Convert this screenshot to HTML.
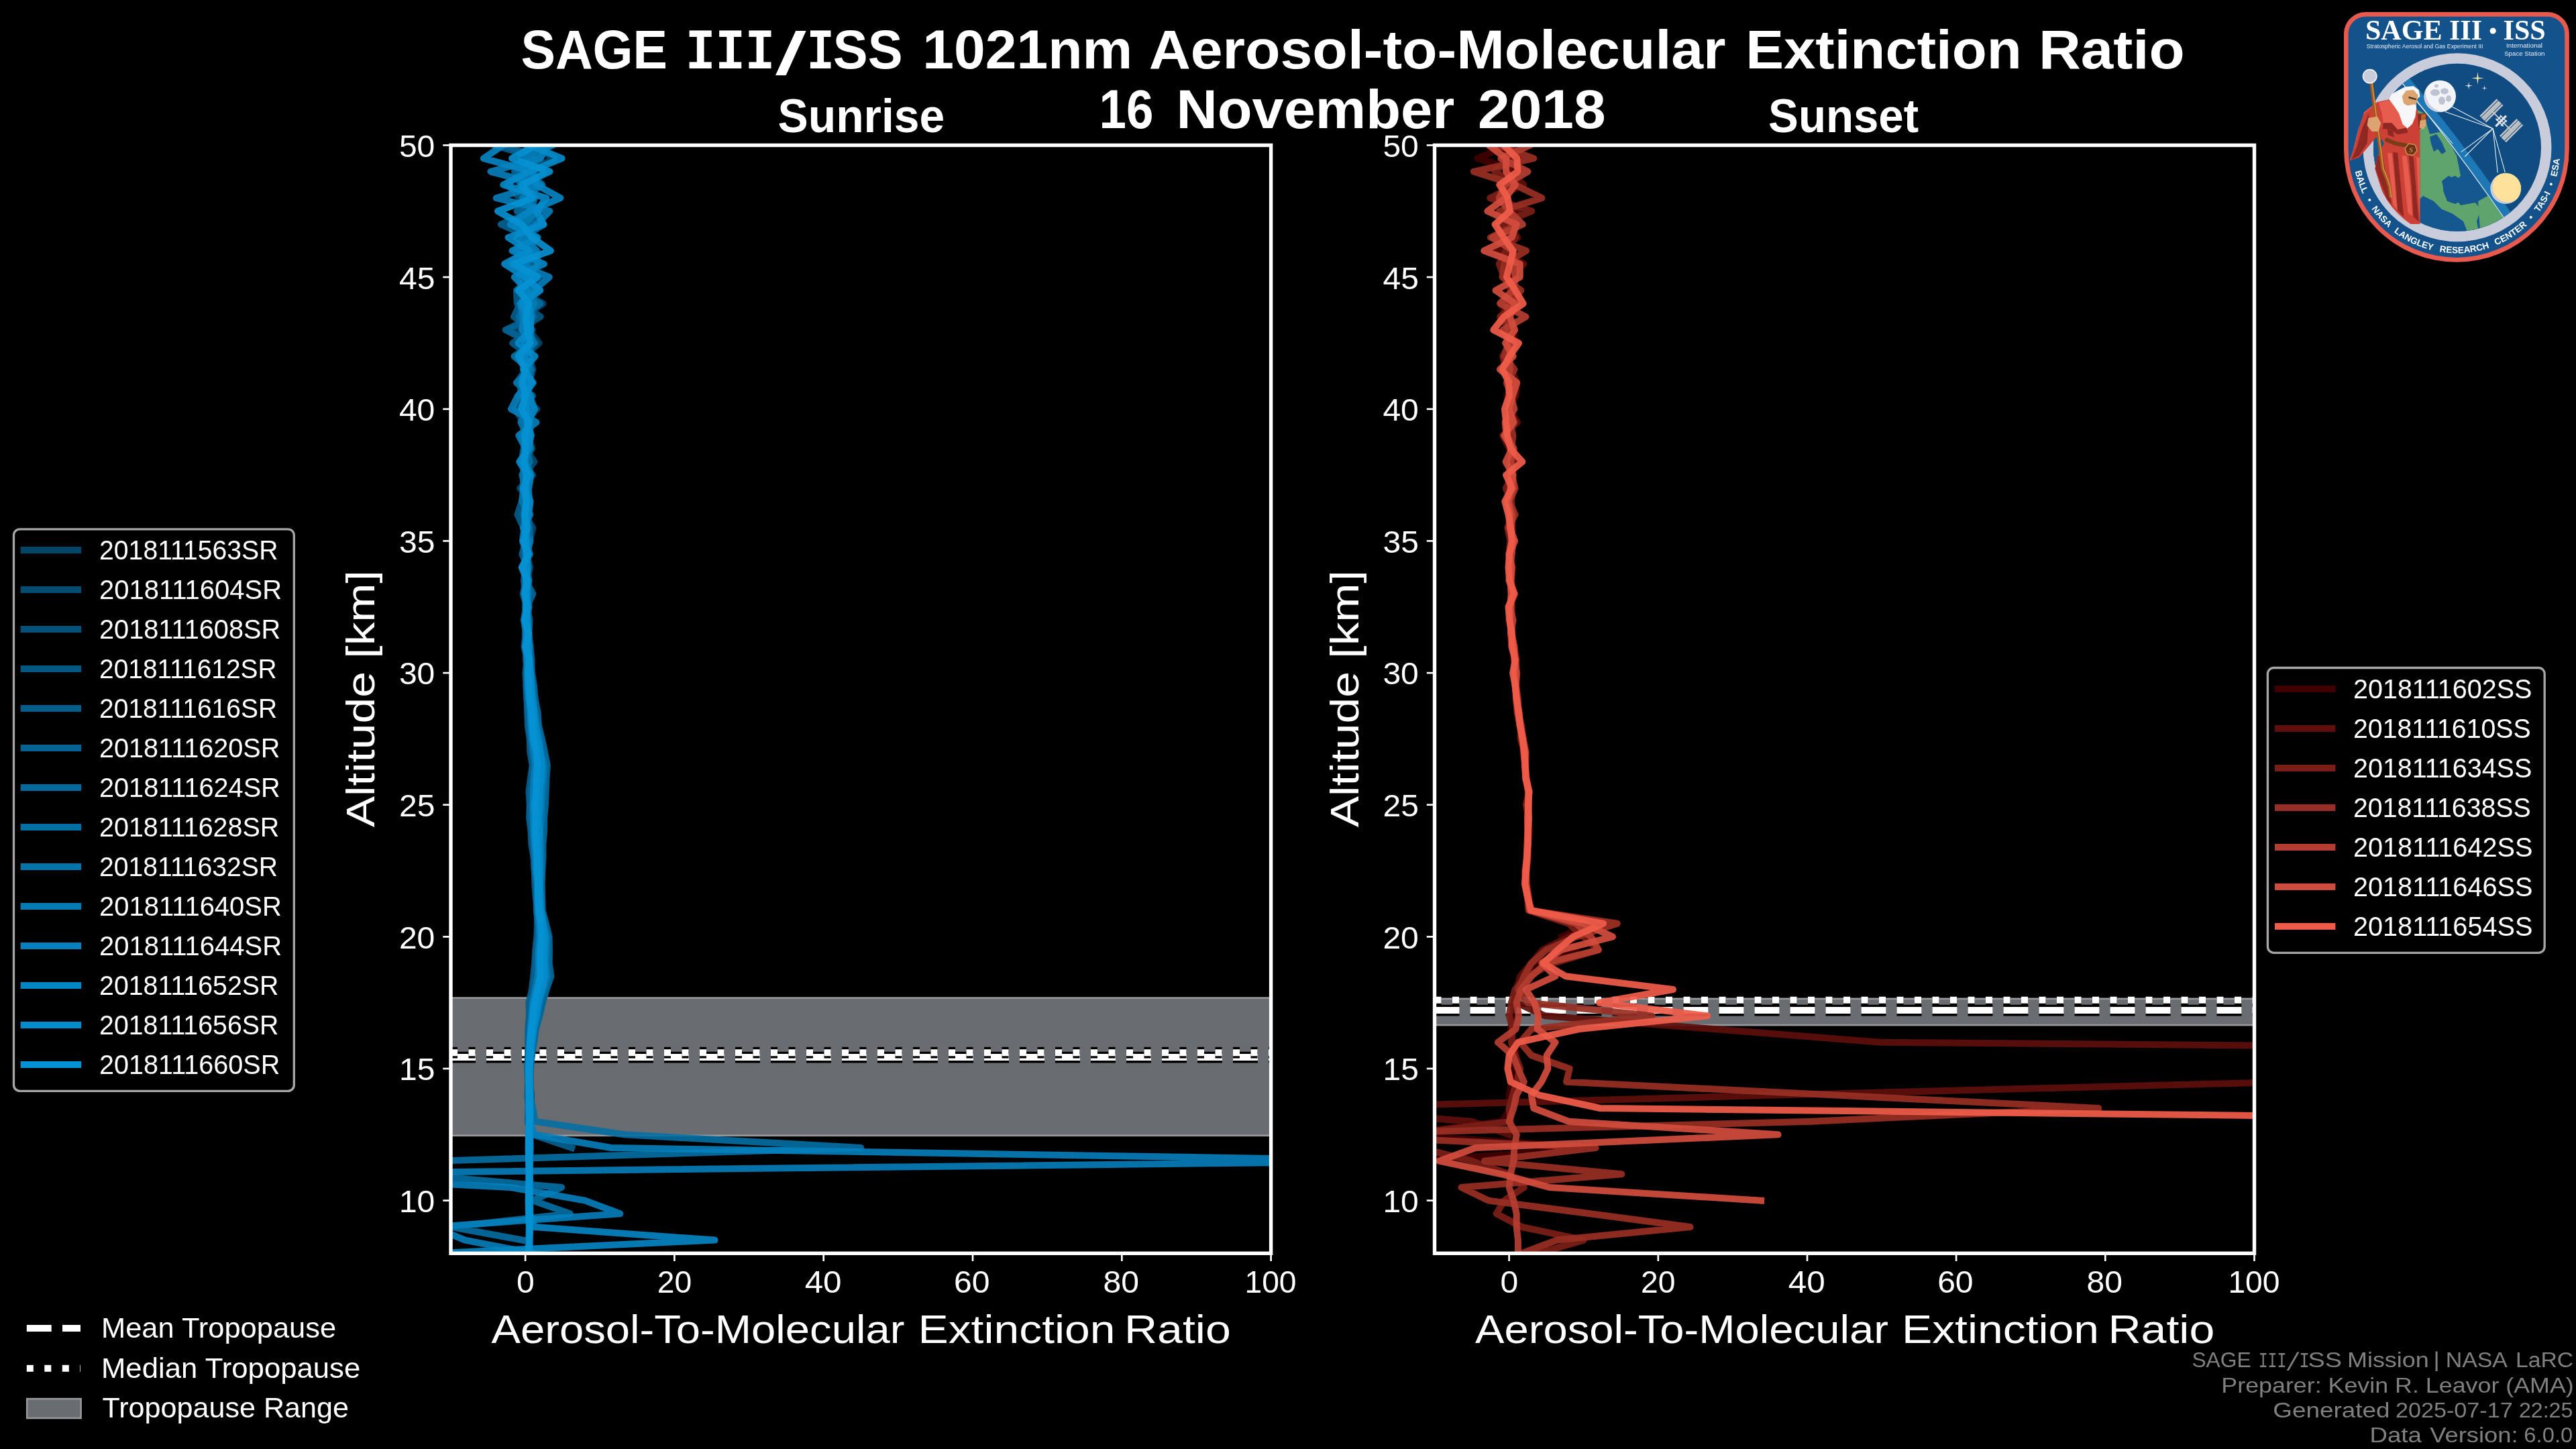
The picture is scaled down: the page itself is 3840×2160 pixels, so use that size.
<!DOCTYPE html>
<html><head><meta charset="utf-8"><title>SAGE III/ISS 1021nm Aerosol-to-Molecular Extinction Ratio</title>
<style>html,body{margin:0;padding:0;background:#000;overflow:hidden}svg{display:block;will-change:transform}</style></head>
<body>
<svg width="3840" height="2160" viewBox="0 0 3840 2160">
<rect width="3840" height="2160" fill="#000"/>
<defs>
<clipPath id="clip0"><rect x="672.0" y="216.5" width="1222.6" height="1651.8"/></clipPath>
<clipPath id="clip1"><rect x="2138.5" y="216.5" width="1222.0" height="1651.8"/></clipPath>
</defs>
<g clip-path="url(#clip0)">
<rect x="667.0" y="1487.6" width="1232.6" height="205.2" fill="#696c71" stroke="#97999d" stroke-width="2.6"/>
<line x1="672.0" y1="1576.1" x2="1894.6" y2="1576.1" stroke="#000" stroke-width="16.67" stroke-dasharray="37 16"/>
<line x1="672.0" y1="1576.1" x2="1894.6" y2="1576.1" stroke="#fff" stroke-width="10" stroke-dasharray="37 16"/>
<line x1="672.0" y1="1569.2" x2="1894.6" y2="1569.2" stroke="#000" stroke-width="16.67" stroke-dasharray="10 16.5"/>
<line x1="672.0" y1="1569.2" x2="1894.6" y2="1569.2" stroke="#fff" stroke-width="10" stroke-dasharray="10 16.5"/>
<polyline points="788.2,177.2 754.6,196.8 822.8,216.5 784.4,236.2 779.4,255.8 789.2,275.5 794.9,295.2 782.2,314.8 787.9,334.5 772.9,354.1 800.7,373.8 783.9,393.5 792.8,413.1 771.9,432.8 809.5,452.5 780.2,472.1 788.3,491.8 803.6,511.5 780.7,531.1 780.4,550.8 788.0,570.5 772.4,590.1 800.5,609.8 779.3,629.5 786.5,649.1 793.2,668.8 776.3,688.4 794.1,708.1 775.0,727.8 789.4,747.4 781.5,767.1 794.4,786.8 789.6,806.4 784.9,826.1 790.0,845.8 785.3,865.4 788.9,885.1 784.7,904.8 784.9,924.4 786.0,944.1 790.1,963.7 792.8,983.4 792.0,1003.1 794.2,1022.7 798.3,1042.4 799.1,1062.1 802.7,1081.7 806.4,1101.4 810.1,1121.1 813.5,1140.7 812.1,1160.4 812.7,1180.1 810.8,1199.7 810.6,1219.4 807.9,1239.0 807.4,1258.7 808.1,1278.4 808.2,1298.0 806.6,1317.7 806.6,1337.4 807.1,1357.0 812.5,1376.7 817.3,1396.4 816.3,1416.0 818.3,1435.7 818.4,1455.3 813.7,1475.0 808.3,1494.7 803.3,1514.3 797.7,1534.0 794.9,1553.7 792.7,1573.3 790.3,1593.0 790.1,1612.7 791.9,1632.3 792.0,1652.0" fill="none" stroke="#03466a" stroke-opacity="0.9" stroke-width="10.0" stroke-linejoin="round" stroke-linecap="square"/>
<polyline points="786.2,177.2 775.4,196.8 792.1,216.5 826.3,236.2 786.0,255.8 783.1,275.5 782.9,295.2 778.8,314.8 795.2,334.5 788.5,354.1 772.3,373.8 799.4,393.5 776.8,413.1 805.6,432.8 781.5,452.5 804.8,472.1 776.3,491.8 790.0,511.5 788.4,531.1 794.3,550.8 788.0,570.5 778.6,590.1 791.7,609.8 784.9,629.5 785.1,649.1 783.9,668.8 796.5,688.4 780.6,708.1 785.4,727.8 789.6,747.4 785.8,767.1 786.6,786.8 789.0,806.4 787.0,826.1 787.4,845.8 788.6,865.4 786.4,885.1 785.5,904.8 786.4,924.4 786.8,944.1 789.0,963.7 788.6,983.4 790.6,1003.1 794.2,1022.7 794.4,1042.4 797.6,1062.1 801.7,1081.7 804.2,1101.4 809.2,1121.1 811.3,1140.7 810.7,1160.4 809.7,1180.1 809.2,1199.7 808.0,1219.4 806.6,1239.0 806.9,1258.7 805.9,1278.4 806.9,1298.0 805.3,1317.7 806.5,1337.4 807.2,1357.0 812.2,1376.7 816.5,1396.4 814.3,1416.0 816.4,1435.7 817.3,1455.3 812.1,1475.0 805.6,1494.7 802.1,1514.3 797.7,1534.0 793.1,1553.7 792.7,1573.3 790.4,1593.0 790.1,1612.7 791.4,1632.3 790.8,1652.0 791.2,1671.7 789.7,1691.3 789.8,1711.0" fill="none" stroke="#034c72" stroke-opacity="0.9" stroke-width="10.0" stroke-linejoin="round" stroke-linecap="square"/>
<polyline points="773.9,177.2 794.6,196.8 783.6,216.5 804.7,236.2 776.0,255.8 757.4,275.5 774.2,295.2 795.7,314.8 775.3,334.5 798.6,354.1 779.1,373.8 777.2,393.5 796.5,413.1 769.8,432.8 770.7,452.5 805.8,472.1 757.5,491.8 798.8,511.5 782.8,531.1 783.6,550.8 770.5,570.5 794.2,590.1 768.2,609.8 780.3,629.5 780.9,649.1 786.7,668.8 781.5,688.4 786.1,708.1 778.6,727.8 783.2,747.4 777.9,767.1 783.4,786.8 784.3,806.4 781.3,826.1 784.9,845.8 781.0,865.4 782.8,885.1 783.6,904.8 783.1,924.4 785.1,944.1 784.4,963.7 787.1,983.4 784.4,1003.1 786.1,1022.7 785.8,1042.4 788.5,1062.1 789.8,1081.7 791.4,1101.4 794.6,1121.1 796.7,1140.7 794.5,1160.4 792.7,1180.1 793.0,1199.7 792.9,1219.4 794.1,1239.0 795.9,1258.7 797.4,1278.4 797.9,1298.0 799.3,1317.7 800.7,1337.4 801.5,1357.0 801.8,1376.7 804.4,1396.4 801.0,1416.0 800.7,1435.7 799.5,1455.3 797.0,1475.0 791.6,1494.7 791.1,1514.3 788.8,1534.0 788.9,1553.7 787.8,1573.3 787.5,1593.0 787.7,1612.7 787.6,1632.3 788.2,1652.0 787.4,1671.7" fill="none" stroke="#03527a" stroke-opacity="0.9" stroke-width="10.0" stroke-linejoin="round" stroke-linecap="square"/>
<polyline points="790.5,177.2 772.3,196.8 802.4,216.5 776.9,236.2 811.1,255.8 781.3,275.5 775.7,295.2 795.7,314.8 790.4,334.5 776.0,354.1 784.0,373.8 761.3,393.5 803.9,413.1 770.9,432.8 771.8,452.5 775.2,472.1 786.7,491.8 789.3,511.5 781.4,531.1 788.7,550.8 774.5,570.5 779.3,590.1 791.4,609.8 783.5,629.5 783.6,649.1 790.4,668.8 775.8,688.4 784.8,708.1 787.6,727.8 789.6,747.4 781.4,767.1 790.8,786.8 779.2,806.4 787.0,826.1 782.5,845.8 781.1,865.4 786.2,885.1 785.5,904.8 783.9,924.4 785.3,944.1 787.6,963.7 784.5,983.4 786.9,1003.1 788.1,1022.7 788.9,1042.4 792.8,1062.1 793.1,1081.7 795.9,1101.4 798.9,1121.1 803.3,1140.7 799.0,1160.4 798.8,1180.1 798.2,1199.7 798.4,1219.4 798.2,1239.0 798.7,1258.7 799.8,1278.4 801.5,1298.0 801.5,1317.7 801.7,1337.4 804.3,1357.0 805.7,1376.7 807.5,1396.4 806.0,1416.0 805.5,1435.7 805.5,1455.3 800.8,1475.0 797.2,1494.7 793.7,1514.3 792.6,1534.0 789.6,1553.7 789.7,1573.3 788.1,1593.0 789.3,1612.7 788.0,1632.3 788.8,1652.0 788.7,1671.7 787.9,1691.3 788.3,1711.0 788.6,1730.7 788.6,1750.3" fill="none" stroke="#035882" stroke-opacity="0.9" stroke-width="10.0" stroke-linejoin="round" stroke-linecap="square"/>
<polyline points="780.4,177.2 784.1,196.8 737.0,216.5 802.3,236.2 770.2,255.8 774.8,275.5 793.9,295.2 789.9,314.8 773.7,334.5 788.2,354.1 772.5,373.8 778.2,393.5 784.5,413.1 785.9,432.8 775.5,452.5 766.1,472.1 793.5,491.8 764.2,511.5 790.1,531.1 790.7,550.8 777.4,570.5 775.3,590.1 774.8,609.8 790.9,629.5 776.9,649.1 785.7,668.8 783.6,688.4 779.7,708.1 780.5,727.8 777.9,747.4 771.5,767.1 780.6,786.8 782.1,806.4 781.4,826.1 783.5,845.8 781.5,865.4 783.2,885.1 783.9,904.8 780.9,924.4 783.6,944.1 781.4,963.7 785.9,983.4 783.3,1003.1 784.9,1022.7 785.6,1042.4 786.2,1062.1 786.8,1081.7 789.7,1101.4 790.2,1121.1 793.7,1140.7 790.8,1160.4 788.3,1180.1 789.8,1199.7 788.9,1219.4 791.5,1239.0 792.3,1258.7 795.6,1278.4 796.8,1298.0 797.3,1317.7 798.7,1337.4 800.6,1357.0 801.0,1376.7 800.3,1396.4 798.2,1416.0 797.1,1435.7 795.1,1455.3 792.9,1475.0 788.4,1494.7 789.0,1514.3 787.3,1534.0 787.2,1553.7 787.1,1573.3 786.2,1593.0 787.1,1612.7 786.5,1632.3" fill="none" stroke="#045d8b" stroke-opacity="0.9" stroke-width="10.0" stroke-linejoin="round" stroke-linecap="square"/>
<polyline points="797.6,177.2 817.6,196.8 750.9,216.5 805.5,236.2 766.9,255.8 801.2,275.5 781.1,295.2 796.4,314.8 746.9,334.5 791.9,354.1 768.1,373.8 787.8,393.5 773.0,413.1 780.6,432.8 789.3,452.5 795.6,472.1 753.7,491.8 792.2,511.5 780.2,531.1 783.0,550.8 779.2,570.5 774.2,590.1 779.2,609.8 787.1,629.5 785.4,649.1 780.5,668.8 777.7,688.4 783.6,708.1 779.8,727.8 784.9,747.4 781.2,767.1 780.3,786.8 783.7,806.4 778.4,826.1 786.4,845.8 784.0,865.4 779.8,885.1 785.0,904.8 780.7,924.4 786.2,944.1 784.3,963.7 784.1,983.4 785.8,1003.1 784.2,1022.7 785.5,1042.4 786.7,1062.1 788.3,1081.7 790.3,1101.4 793.0,1121.1 794.2,1140.7 793.5,1160.4 791.3,1180.1 790.1,1199.7 790.8,1219.4 792.9,1239.0 794.4,1258.7 795.7,1278.4 796.8,1298.0 799.0,1317.7 800.5,1337.4 799.8,1357.0 802.5,1376.7 801.5,1396.4 799.7,1416.0 798.8,1435.7 797.6,1455.3 794.8,1475.0 791.1,1494.7 789.6,1514.3 788.4,1534.0 787.4,1553.7 787.3,1573.3 786.5,1593.0 788.2,1612.7 786.8,1632.3 787.2,1652.0 786.9,1671.7 794.3,1691.3 852.1,1711.0" fill="none" stroke="#046393" stroke-opacity="0.9" stroke-width="10.0" stroke-linejoin="round" stroke-linecap="square"/>
<polyline points="793.6,177.2 789.4,196.8 798.6,216.5 789.1,236.2 772.8,255.8 775.9,275.5 796.5,295.2 770.8,314.8 810.5,334.5 779.5,354.1 782.1,373.8 788.3,393.5 783.8,413.1 789.5,432.8 796.6,452.5 773.0,472.1 780.1,491.8 794.7,511.5 784.3,531.1 791.2,550.8 789.9,570.5 786.1,590.1 793.8,609.8 780.1,629.5 791.5,649.1 781.7,668.8 784.5,688.4 791.8,708.1 788.3,727.8 779.3,747.4 786.7,767.1 788.8,786.8 790.3,806.4 784.3,826.1 788.2,845.8 783.6,865.4 794.3,885.1 785.4,904.8 789.5,924.4 788.3,944.1 790.5,963.7 791.5,983.4 792.8,1003.1 796.1,1022.7 797.4,1042.4 801.7,1062.1 802.9,1081.7 807.8,1101.4 812.1,1121.1 815.9,1140.7 814.5,1160.4 813.7,1180.1 813.0,1199.7 811.1,1219.4 811.1,1239.0 809.4,1258.7 809.5,1278.4 808.2,1298.0 807.7,1317.7 808.1,1337.4 808.7,1357.0 813.8,1376.7 818.6,1396.4 819.0,1416.0 818.6,1435.7 821.4,1455.3 814.6,1475.0 809.1,1494.7 804.4,1514.3 798.8,1534.0 796.1,1553.7 792.5,1573.3 791.0,1593.0 790.5,1612.7 791.2,1632.3 791.8,1652.0 792.4,1671.7 790.0,1691.3 790.8,1711.0 790.2,1730.7 789.8,1750.3 790.6,1770.0 789.7,1789.6" fill="none" stroke="#04699b" stroke-opacity="0.9" stroke-width="10.0" stroke-linejoin="round" stroke-linecap="square"/>
<polyline points="798.1,177.2 772.0,196.8 790.0,216.5 795.8,236.2 785.0,255.8 785.5,275.5 796.7,295.2 792.0,314.8 768.9,334.5 799.7,354.1 787.1,373.8 778.0,393.5 793.6,413.1 770.6,432.8 805.3,452.5 775.7,472.1 789.8,491.8 793.6,511.5 781.4,531.1 791.9,550.8 775.7,570.5 786.0,590.1 776.5,609.8 787.9,629.5 789.9,649.1 784.3,668.8 789.8,688.4 778.2,708.1 784.1,727.8 783.7,747.4 788.0,767.1 785.3,786.8 785.2,806.4 787.2,826.1 784.2,845.8 785.8,865.4 788.1,885.1 783.3,904.8 786.7,924.4 788.3,944.1 786.5,963.7 789.5,983.4 788.7,1003.1 793.2,1022.7 790.1,1042.4 795.3,1062.1 796.6,1081.7 801.8,1101.4 803.5,1121.1 806.7,1140.7 804.9,1160.4 805.0,1180.1 803.4,1199.7 802.8,1219.4 801.9,1239.0 802.7,1258.7 803.7,1278.4 803.8,1298.0 804.0,1317.7 804.2,1337.4 804.3,1357.0 809.1,1376.7 811.1,1396.4 811.0,1416.0 810.6,1435.7 811.1,1455.3 806.2,1475.0 802.1,1494.7 798.0,1514.3 794.4,1534.0 791.0,1553.7 791.3,1573.3 789.3,1593.0 789.9,1612.7 789.4,1632.3 794.3,1652.0 797.6,1671.7 931.0,1691.3 1283.3,1711.0 649.8,1730.7 612.0,1750.3 837.1,1770.0 794.3,1789.6 849.8,1809.3 672.0,1829.0 778.7,1848.6" fill="none" stroke="#046fa3" stroke-opacity="0.9" stroke-width="10.0" stroke-linejoin="round" stroke-linecap="square"/>
<polyline points="807.6,177.2 743.2,196.8 823.9,216.5 779.5,236.2 783.3,255.8 808.3,275.5 778.9,295.2 804.5,314.8 771.9,334.5 782.5,354.1 799.8,373.8 801.5,393.5 785.0,413.1 794.3,432.8 777.9,452.5 777.7,472.1 787.0,491.8 796.4,511.5 766.5,531.1 789.7,550.8 770.0,570.5 792.2,590.1 787.3,609.8 776.4,629.5 786.0,649.1 791.1,668.8 781.3,688.4 780.1,708.1 780.7,727.8 778.1,747.4 790.4,767.1 779.9,786.8 790.3,806.4 785.2,826.1 783.1,845.8 784.5,865.4 787.0,885.1 784.7,904.8 785.8,924.4 783.2,944.1 789.0,963.7 785.9,983.4 787.5,1003.1 790.2,1022.7 792.0,1042.4 795.2,1062.1 795.3,1081.7 798.7,1101.4 803.7,1121.1 804.5,1140.7 803.9,1160.4 801.9,1180.1 801.5,1199.7 802.3,1219.4 800.6,1239.0 801.7,1258.7 802.1,1278.4 803.8,1298.0 802.5,1317.7 804.3,1337.4 804.4,1357.0 807.9,1376.7 809.9,1396.4 809.7,1416.0 809.3,1435.7 809.4,1455.3 804.4,1475.0 799.6,1494.7 797.2,1514.3 793.5,1534.0 791.7,1553.7 790.3,1573.3 788.3,1593.0 789.8,1612.7 789.3,1632.3 789.9,1652.0 789.8,1671.7 789.2,1691.3" fill="none" stroke="#0475ab" stroke-opacity="0.9" stroke-width="10.0" stroke-linejoin="round" stroke-linecap="square"/>
<polyline points="795.8,177.2 783.9,196.8 808.1,216.5 783.8,236.2 781.8,255.8 784.3,275.5 781.2,295.2 797.6,314.8 783.3,334.5 784.5,354.1 797.1,373.8 783.7,393.5 784.0,413.1 774.3,432.8 796.4,452.5 785.1,472.1 788.3,491.8 782.9,511.5 782.2,531.1 787.0,550.8 788.1,570.5 785.1,590.1 786.1,609.8 783.7,629.5 789.3,649.1 786.1,668.8 782.3,688.4 791.2,708.1 787.4,727.8 788.9,747.4 784.5,767.1 786.1,786.8 782.4,806.4 789.9,826.1 778.9,845.8 788.2,865.4 784.7,885.1 788.5,904.8 785.3,924.4 786.0,944.1 786.5,963.7 789.3,983.4 791.3,1003.1 792.7,1022.7 794.6,1042.4 796.9,1062.1 799.9,1081.7 804.0,1101.4 806.2,1121.1 810.6,1140.7 809.9,1160.4 808.3,1180.1 807.1,1199.7 806.9,1219.4 804.9,1239.0 805.8,1258.7 806.3,1278.4 806.3,1298.0 804.4,1317.7 806.4,1337.4 807.0,1357.0 810.2,1376.7 814.9,1396.4 814.4,1416.0 813.4,1435.7 815.7,1455.3 809.7,1475.0 803.9,1494.7 801.0,1514.3 796.0,1534.0 794.0,1553.7 792.3,1573.3 789.9,1593.0 790.0,1612.7 790.8,1632.3 791.0,1652.0 791.3,1671.7 789.0,1691.3 789.3,1711.0 788.7,1730.7 789.9,1750.3 789.1,1770.0 789.2,1789.6 789.1,1809.3" fill="none" stroke="#047bb3" stroke-opacity="0.9" stroke-width="10.0" stroke-linejoin="round" stroke-linecap="square"/>
<polyline points="774.1,177.2 716.5,196.8 816.5,216.5 805.4,236.2 731.5,255.8 805.4,275.5 739.8,295.2 819.4,314.8 799.8,334.5 769.8,354.1 792.0,373.8 772.0,393.5 818.7,413.1 795.7,432.8 775.2,452.5 781.5,472.1 778.1,491.8 791.0,511.5 778.8,531.1 781.2,550.8 792.5,570.5 772.0,590.1 762.0,609.8 799.5,629.5 773.4,649.1 783.6,668.8 778.4,688.4 783.7,708.1 785.7,727.8 784.6,747.4 784.2,767.1 781.5,786.8 779.0,806.4 785.8,826.1 786.4,845.8 784.9,865.4 782.7,885.1 785.6,904.8 782.5,924.4 784.9,944.1 783.1,963.7 785.9,983.4 786.2,1003.1 786.6,1022.7 788.4,1042.4 790.3,1062.1 791.2,1081.7 793.1,1101.4 795.7,1121.1 797.9,1140.7 796.1,1160.4 795.1,1180.1 794.4,1199.7 794.8,1219.4 795.3,1239.0 796.7,1258.7 798.0,1278.4 798.8,1298.0 801.2,1317.7 801.2,1337.4 801.7,1357.0 803.5,1376.7 804.6,1396.4 803.0,1416.0 802.5,1435.7 802.3,1455.3 798.2,1475.0 794.1,1494.7 792.4,1514.3 790.6,1534.0 789.4,1553.7 788.4,1573.3 787.1,1593.0 788.1,1612.7 788.7,1632.3 787.7,1652.0 789.8,1671.7 796.5,1691.3 911.0,1711.0 2128.0,1730.7 371.9,1750.3 760.9,1770.0 872.1,1789.6 924.3,1809.3 646.4,1829.0 693.1,1848.6 795.4,1868.3" fill="none" stroke="#0580bc" stroke-opacity="0.9" stroke-width="10.0" stroke-linejoin="round" stroke-linecap="square"/>
<polyline points="807.1,177.2 816.5,196.8 749.8,216.5 720.9,236.2 794.3,255.8 799.8,275.5 835.4,295.2 788.7,314.8 760.9,334.5 801.5,354.1 763.5,373.8 810.9,393.5 766.9,413.1 785.4,432.8 787.6,452.5 792.3,472.1 790.4,491.8 790.4,511.5 781.2,531.1 783.7,550.8 782.3,570.5 789.3,590.1 797.0,609.8 787.2,629.5 791.8,649.1 788.0,668.8 774.3,688.4 787.2,708.1 780.9,727.8 790.6,747.4 788.0,767.1 780.5,786.8 786.2,806.4 785.4,826.1 782.9,845.8 783.8,865.4 783.6,885.1 786.9,904.8 782.5,924.4 788.2,944.1 785.3,963.7 788.5,983.4 789.3,1003.1 788.3,1022.7 790.5,1042.4 793.1,1062.1 794.0,1081.7 797.6,1101.4 800.7,1121.1 803.4,1140.7 801.2,1160.4 800.7,1180.1 800.1,1199.7 800.4,1219.4 798.3,1239.0 801.7,1258.7 801.2,1278.4 801.4,1298.0 802.0,1317.7 803.5,1337.4 803.6,1357.0 807.0,1376.7 809.3,1396.4 807.3,1416.0 807.3,1435.7 807.9,1455.3 803.3,1475.0 799.1,1494.7 796.2,1514.3 792.8,1534.0 791.0,1553.7 790.9,1573.3 788.5,1593.0 789.1,1612.7 788.6,1632.3 790.0,1652.0 788.7,1671.7 788.6,1691.3 788.1,1711.0 788.6,1730.7 788.6,1750.3 788.1,1770.0 788.5,1789.6 789.3,1809.3 796.5,1829.0 1065.5,1848.6 649.8,1868.3" fill="none" stroke="#0586c4" stroke-opacity="0.9" stroke-width="10.0" stroke-linejoin="round" stroke-linecap="square"/>
<polyline points="759.5,177.2 827.6,196.8 789.8,216.5 837.6,236.2 788.7,255.8 750.4,275.5 814.3,295.2 799.8,314.8 810.4,334.5 757.6,354.1 788.7,373.8 752.2,393.5 783.1,413.1 804.9,432.8 777.6,452.5 788.4,472.1 791.0,491.8 772.6,511.5 797.6,531.1 780.2,550.8 794.6,570.5 780.3,590.1 784.8,609.8 786.0,629.5 789.2,649.1 783.9,668.8 778.8,688.4 789.9,708.1 779.2,727.8 785.6,747.4 782.7,767.1 782.7,786.8 784.2,806.4 784.3,826.1 785.1,845.8 785.7,865.4 785.1,885.1 784.2,904.8 786.1,924.4 787.2,944.1 787.8,963.7 788.6,983.4 790.4,1003.1 791.7,1022.7 793.7,1042.4 796.0,1062.1 797.6,1081.7 801.3,1101.4 805.1,1121.1 807.8,1140.7 806.8,1160.4 804.4,1180.1 804.8,1199.7 802.6,1219.4 804.0,1239.0 803.3,1258.7 804.1,1278.4 804.1,1298.0 804.8,1317.7 804.3,1337.4 805.9,1357.0 809.2,1376.7 812.5,1396.4 811.5,1416.0 811.2,1435.7 812.0,1455.3 807.6,1475.0 802.3,1494.7 798.6,1514.3 795.2,1534.0 792.6,1553.7 790.6,1573.3 789.5,1593.0 789.5,1612.7 789.9,1632.3 790.6,1652.0 790.2,1671.7 790.4,1691.3 790.0,1711.0 789.5,1730.7 789.3,1750.3 789.5,1770.0 790.0,1789.6 790.4,1809.3 790.2,1829.0 789.7,1848.6 789.3,1868.3" fill="none" stroke="#058ccc" stroke-opacity="0.9" stroke-width="10.0" stroke-linejoin="round" stroke-linecap="square"/>
<polyline points="807.8,177.2 760.9,196.8 798.7,216.5 763.1,236.2 819.4,255.8 777.6,275.5 794.3,295.2 742.0,314.8 777.6,334.5 793.1,354.1 820.9,373.8 766.5,393.5 800.9,413.1 773.1,432.8 788.7,452.5 783.8,472.1 785.6,491.8 790.3,511.5 772.5,531.1 783.2,550.8 778.0,570.5 783.8,590.1 777.3,609.8 788.4,629.5 781.9,649.1 783.4,668.8 781.4,688.4 784.8,708.1 783.5,727.8 784.5,747.4 781.8,767.1 786.0,786.8 780.2,806.4 787.8,826.1 777.7,845.8 786.0,865.4 782.0,885.1 786.2,904.8 782.3,924.4 787.7,944.1 783.5,963.7 788.9,983.4 786.9,1003.1 788.6,1022.7 789.7,1042.4 792.3,1062.1 793.3,1081.7 795.3,1101.4 799.7,1121.1 801.1,1140.7 799.5,1160.4 798.9,1180.1 797.2,1199.7 798.2,1219.4 797.9,1239.0 798.9,1258.7 800.4,1278.4 800.5,1298.0 801.9,1317.7 802.0,1337.4 803.4,1357.0 806.1,1376.7 807.2,1396.4 805.6,1416.0 805.2,1435.7 805.4,1455.3 801.1,1475.0 796.7,1494.7 794.4,1514.3 792.0,1534.0 790.2,1553.7 789.5,1573.3 788.5,1593.0 788.2,1612.7 788.8,1632.3 788.9,1652.0 788.7,1671.7 788.0,1691.3 787.6,1711.0 788.2,1730.7 788.7,1750.3 788.2,1770.0 787.6,1789.6 788.0,1809.3 788.7,1829.0 788.3,1848.6 787.6,1868.3" fill="none" stroke="#0592d4" stroke-opacity="0.9" stroke-width="10.0" stroke-linejoin="round" stroke-linecap="square"/>
</g>
<rect x="672.0" y="216.5" width="1222.6" height="1651.8" fill="none" stroke="#fff" stroke-width="5.4"/>
<line x1="783.1" y1="1868.3" x2="783.1" y2="1880.0" stroke="#fff" stroke-width="2.67"/>
<text transform="translate(770.06,1927.20) scale(1.0400,1)" font-family="'Liberation Sans', sans-serif" font-size="46.20" font-weight="normal" fill="#fff" >0</text>
<line x1="1005.4" y1="1868.3" x2="1005.4" y2="1880.0" stroke="#fff" stroke-width="2.67"/>
<text transform="translate(979.77,1927.20) scale(1.0000,1)" font-family="'Liberation Sans', sans-serif" font-size="46.20" font-weight="normal" fill="#fff" >20</text>
<line x1="1227.7" y1="1868.3" x2="1227.7" y2="1880.0" stroke="#fff" stroke-width="2.67"/>
<text transform="translate(1199.64,1927.20) scale(1.0700,1)" font-family="'Liberation Sans', sans-serif" font-size="46.20" font-weight="normal" fill="#fff" >40</text>
<line x1="1450.0" y1="1868.3" x2="1450.0" y2="1880.0" stroke="#fff" stroke-width="2.67"/>
<text transform="translate(1422.02,1927.20) scale(1.0400,1)" font-family="'Liberation Sans', sans-serif" font-size="46.20" font-weight="normal" fill="#fff" >60</text>
<line x1="1672.3" y1="1868.3" x2="1672.3" y2="1880.0" stroke="#fff" stroke-width="2.67"/>
<text transform="translate(1644.47,1927.20) scale(1.0400,1)" font-family="'Liberation Sans', sans-serif" font-size="46.20" font-weight="normal" fill="#fff" >80</text>
<line x1="1894.6" y1="1868.3" x2="1894.6" y2="1880.0" stroke="#fff" stroke-width="2.67"/>
<text transform="translate(1855.49,1927.20) scale(1.0000,1)" font-family="'Liberation Sans', sans-serif" font-size="46.20" font-weight="normal" fill="#fff" >100</text>
<line x1="660.3" y1="1789.6" x2="672.0" y2="1789.6" stroke="#fff" stroke-width="2.67"/>
<text transform="translate(594.90,1807.04) scale(1.0400,1)" font-family="'Liberation Sans', sans-serif" font-size="46.20" font-weight="normal" fill="#fff" >10</text>
<line x1="660.3" y1="1593.0" x2="672.0" y2="1593.0" stroke="#fff" stroke-width="2.67"/>
<text transform="translate(595.04,1610.40) scale(1.0400,1)" font-family="'Liberation Sans', sans-serif" font-size="46.20" font-weight="normal" fill="#fff" >15</text>
<line x1="660.3" y1="1396.4" x2="672.0" y2="1396.4" stroke="#fff" stroke-width="2.67"/>
<text transform="translate(594.90,1413.76) scale(1.0400,1)" font-family="'Liberation Sans', sans-serif" font-size="46.20" font-weight="normal" fill="#fff" >20</text>
<line x1="660.3" y1="1199.7" x2="672.0" y2="1199.7" stroke="#fff" stroke-width="2.67"/>
<text transform="translate(595.04,1217.11) scale(1.0400,1)" font-family="'Liberation Sans', sans-serif" font-size="46.20" font-weight="normal" fill="#fff" >25</text>
<line x1="660.3" y1="1003.1" x2="672.0" y2="1003.1" stroke="#fff" stroke-width="2.67"/>
<text transform="translate(594.90,1020.47) scale(1.0400,1)" font-family="'Liberation Sans', sans-serif" font-size="46.20" font-weight="normal" fill="#fff" >30</text>
<line x1="660.3" y1="806.4" x2="672.0" y2="806.4" stroke="#fff" stroke-width="2.67"/>
<text transform="translate(595.04,823.83) scale(1.0400,1)" font-family="'Liberation Sans', sans-serif" font-size="46.20" font-weight="normal" fill="#fff" >35</text>
<line x1="660.3" y1="609.8" x2="672.0" y2="609.8" stroke="#fff" stroke-width="2.67"/>
<text transform="translate(594.90,627.19) scale(1.0400,1)" font-family="'Liberation Sans', sans-serif" font-size="46.20" font-weight="normal" fill="#fff" >40</text>
<line x1="660.3" y1="413.1" x2="672.0" y2="413.1" stroke="#fff" stroke-width="2.67"/>
<text transform="translate(595.04,430.54) scale(1.0400,1)" font-family="'Liberation Sans', sans-serif" font-size="46.20" font-weight="normal" fill="#fff" >45</text>
<line x1="660.3" y1="216.5" x2="672.0" y2="216.5" stroke="#fff" stroke-width="2.67"/>
<text transform="translate(594.90,233.90) scale(1.0400,1)" font-family="'Liberation Sans', sans-serif" font-size="46.20" font-weight="normal" fill="#fff" >50</text>
<text transform="translate(732.47,2001.60) scale(1.0886,1)" font-family="'Liberation Sans', sans-serif" font-size="59.90" font-weight="normal" fill="#fff" >Aerosol-To-Molecular</text>
<text transform="translate(1368.44,2001.60) scale(1.1326,1)" font-family="'Liberation Sans', sans-serif" font-size="59.90" font-weight="normal" fill="#fff" >Extinction</text>
<text transform="translate(1675.92,2001.60) scale(1.1364,1)" font-family="'Liberation Sans', sans-serif" font-size="59.90" font-weight="normal" fill="#fff" >Ratio</text>
<text transform="translate(558.40,1233.34) rotate(-90) scale(1.1630,1)" font-family="'Liberation Sans', sans-serif" font-size="59.90" font-weight="normal" fill="#fff">Altitude [km]</text>
<g clip-path="url(#clip1)">
<rect x="2133.5" y="1488.8" width="1232.0" height="39.3" fill="#696c71" stroke="#97999d" stroke-width="2.6"/>
<line x1="2138.5" y1="1506.1" x2="3360.5" y2="1506.1" stroke="#000" stroke-width="16.67" stroke-dasharray="37 16"/>
<line x1="2138.5" y1="1506.1" x2="3360.5" y2="1506.1" stroke="#fff" stroke-width="10" stroke-dasharray="37 16"/>
<line x1="2138.5" y1="1490.7" x2="3360.5" y2="1490.7" stroke="#000" stroke-width="16.67" stroke-dasharray="10 16.5"/>
<line x1="2138.5" y1="1490.7" x2="3360.5" y2="1490.7" stroke="#fff" stroke-width="10" stroke-dasharray="10 16.5"/>
<polyline points="2279.7,177.2 2229.5,196.8 2248.6,216.5 2202.7,236.2 2268.8,255.8 2234.8,275.5 2246.5,295.2 2254.8,314.8 2252.6,334.5 2234.3,354.1 2245.2,373.8 2246.0,393.5 2258.0,413.1 2251.4,432.8 2237.3,452.5 2245.7,472.1 2257.1,491.8 2257.8,511.5 2246.6,531.1 2247.6,550.8 2257.1,570.5 2245.9,590.1 2255.4,609.8 2254.9,629.5 2251.2,649.1 2250.7,668.8 2253.5,688.4 2247.5,708.1 2251.8,727.8 2249.0,747.4 2251.4,767.1 2249.9,786.8 2251.4,806.4 2250.5,826.1 2252.0,845.8 2251.5,865.4 2252.2,885.1 2253.6,904.8 2249.0,924.4 2254.7,944.1 2253.3,963.7 2256.8,983.4 2258.3,1003.1 2259.0,1022.7 2260.6,1042.4 2261.2,1062.1 2266.0,1081.7 2268.2,1101.4 2270.4,1121.1 2272.1,1140.7 2274.0,1160.4 2277.7,1180.1 2277.6,1199.7 2276.9,1219.4 2277.1,1239.0 2276.0,1258.7 2276.1,1278.4 2272.7,1298.0 2272.7,1317.7 2276.5,1337.4 2279.6,1357.0 2371.8,1376.7 2327.4,1396.4 2349.6,1416.0 2294.0,1435.7 2271.8,1455.3 2260.7,1475.0 2256.3,1494.7 2255.1,1514.3 2251.8,1534.0 2256.3,1553.7 2260.7,1573.3 2256.3,1593.0 2252.9,1612.7 2249.6,1632.3 2251.8,1652.0 2238.5,1671.7 2083.0,1691.3 2378.5,1711.0 2116.3,1730.7" fill="none" stroke="#410000" stroke-opacity="0.93" stroke-width="10.0" stroke-linejoin="round" stroke-linecap="square"/>
<polyline points="2265.2,177.2 2228.4,196.8 2258.0,216.5 2238.1,236.2 2251.8,255.8 2271.4,275.5 2226.3,295.2 2262.2,314.8 2250.0,334.5 2262.3,354.1 2231.9,373.8 2271.5,393.5 2247.2,413.1 2261.5,432.8 2247.9,452.5 2239.6,472.1 2251.7,491.8 2257.4,511.5 2249.8,531.1 2252.5,550.8 2261.4,570.5 2259.1,590.1 2249.2,609.8 2261.9,629.5 2240.1,649.1 2249.8,668.8 2257.0,688.4 2249.9,708.1 2255.8,727.8 2253.1,747.4 2252.6,767.1 2254.9,786.8 2252.7,806.4 2250.1,826.1 2255.0,845.8 2253.0,865.4 2256.7,885.1 2250.6,904.8 2254.9,924.4 2252.7,944.1 2256.8,963.7 2260.9,983.4 2259.8,1003.1 2260.5,1022.7 2261.8,1042.4 2264.9,1062.1 2266.0,1081.7 2270.6,1101.4 2274.7,1121.1 2274.5,1140.7 2275.1,1160.4 2279.0,1180.1 2278.7,1199.7 2277.4,1219.4 2279.9,1239.0 2277.5,1258.7 2277.2,1278.4 2274.5,1298.0 2274.1,1317.7 2278.6,1337.4 2281.8,1357.0 2410.7,1376.7 2338.5,1396.4 2299.6,1416.0 2282.9,1435.7 2266.3,1455.3 2260.7,1475.0 2260.7,1494.7 2302.9,1514.3 2555.1,1534.0 2802.8,1553.7 5115.7,1573.3 5026.9,1593.0 3416.0,1612.7 2654.0,1632.3 1938.5,1652.0 2194.0,1671.7 2249.6,1691.3" fill="none" stroke="#5e0f0c" stroke-opacity="0.93" stroke-width="10.0" stroke-linejoin="round" stroke-linecap="square"/>
<polyline points="2237.6,177.2 2266.7,196.8 2246.1,216.5 2253.7,236.2 2228.0,255.8 2261.0,275.5 2221.3,295.2 2283.3,314.8 2233.8,334.5 2258.8,354.1 2244.9,373.8 2234.7,393.5 2242.4,413.1 2253.0,432.8 2262.2,452.5 2236.1,472.1 2250.9,491.8 2249.9,511.5 2240.3,531.1 2245.1,550.8 2250.8,570.5 2250.5,590.1 2249.3,609.8 2258.2,629.5 2247.3,649.1 2254.2,668.8 2255.9,688.4 2255.3,708.1 2244.7,727.8 2253.2,747.4 2254.0,767.1 2247.3,786.8 2251.5,806.4 2249.2,826.1 2250.4,845.8 2250.7,865.4 2253.0,885.1 2253.8,904.8 2253.8,924.4 2251.9,944.1 2253.2,963.7 2258.7,983.4 2258.1,1003.1 2260.0,1022.7 2259.8,1042.4 2261.6,1062.1 2266.7,1081.7 2266.8,1101.4 2272.6,1121.1 2273.1,1140.7 2274.1,1160.4 2279.1,1180.1 2274.9,1199.7 2278.6,1219.4 2277.3,1239.0 2276.3,1258.7 2276.2,1278.4 2273.2,1298.0 2273.8,1317.7 2276.8,1337.4 2278.5,1357.0 2338.5,1376.7 2360.7,1396.4 2382.9,1416.0 2316.2,1435.7 2277.4,1455.3 2258.5,1475.0 2252.9,1494.7 2249.6,1514.3 2255.1,1534.0 2252.9,1553.7 2258.5,1573.3 2266.3,1593.0 2260.7,1612.7 2255.1,1632.3 2249.6,1652.0 2251.8,1671.7 2094.1,1691.3 2116.3,1711.0 2194.0,1730.7 2249.6,1750.3 2271.8,1770.0 2242.4,1789.6 2230.7,1809.3 2268.5,1829.0 2360.7,1848.6 2292.9,1868.3" fill="none" stroke="#7b1e18" stroke-opacity="0.93" stroke-width="10.0" stroke-linejoin="round" stroke-linecap="square"/>
<polyline points="2273.0,177.2 2272.1,196.8 2233.1,216.5 2286.3,236.2 2196.7,255.8 2258.5,275.5 2298.5,295.2 2235.1,314.8 2260.7,334.5 2221.8,354.1 2275.1,373.8 2242.4,393.5 2239.4,413.1 2267.4,432.8 2249.1,452.5 2245.1,472.1 2250.8,491.8 2249.3,511.5 2242.7,531.1 2257.5,550.8 2245.8,570.5 2253.5,590.1 2255.2,609.8 2250.9,629.5 2255.5,649.1 2253.1,668.8 2252.7,688.4 2253.0,708.1 2258.8,727.8 2250.1,747.4 2258.6,767.1 2248.6,786.8 2256.9,806.4 2252.2,826.1 2252.5,845.8 2249.2,865.4 2258.1,885.1 2250.2,904.8 2254.0,924.4 2254.0,944.1 2256.7,963.7 2259.7,983.4 2259.9,1003.1 2259.8,1022.7 2263.0,1042.4 2263.1,1062.1 2268.0,1081.7 2270.6,1101.4 2274.6,1121.1 2273.9,1140.7 2275.4,1160.4 2279.3,1180.1 2277.4,1199.7 2278.8,1219.4 2278.0,1239.0 2277.4,1258.7 2277.5,1278.4 2275.4,1298.0 2275.7,1317.7 2278.8,1337.4 2279.6,1357.0 2410.7,1376.7 2349.6,1396.4 2305.1,1416.0 2282.9,1435.7 2271.8,1455.3 2262.9,1475.0 2277.4,1494.7 2462.9,1514.3 2282.9,1534.0 2266.3,1553.7 2282.9,1573.3 2339.6,1593.0 2335.1,1612.7 2731.7,1632.3 3128.3,1652.0 2699.5,1671.7 1965.2,1691.3 2378.5,1711.0 2212.9,1730.7 2417.3,1750.3 2178.5,1770.0 2218.5,1789.6 2370.7,1809.3 2519.5,1829.0 2320.7,1848.6 2268.5,1868.3" fill="none" stroke="#982e24" stroke-opacity="0.93" stroke-width="10.0" stroke-linejoin="round" stroke-linecap="square"/>
<polyline points="2246.6,177.2 2227.1,196.8 2280.8,216.5 2237.4,236.2 2277.5,255.8 2243.4,275.5 2234.8,295.2 2249.7,314.8 2269.8,334.5 2225.0,354.1 2255.7,373.8 2255.1,393.5 2259.4,413.1 2255.2,432.8 2236.1,452.5 2274.5,472.1 2240.3,491.8 2255.8,511.5 2249.5,531.1 2250.9,550.8 2246.6,570.5 2252.1,590.1 2257.4,609.8 2243.5,629.5 2245.5,649.1 2256.8,668.8 2251.3,688.4 2255.0,708.1 2256.6,727.8 2248.4,747.4 2254.5,767.1 2252.9,786.8 2255.3,806.4 2253.8,826.1 2250.7,845.8 2251.3,865.4 2253.2,885.1 2250.6,904.8 2255.6,924.4 2251.8,944.1 2256.3,963.7 2257.8,983.4 2261.3,1003.1 2259.8,1022.7 2260.9,1042.4 2264.4,1062.1 2266.3,1081.7 2270.5,1101.4 2273.8,1121.1 2273.3,1140.7 2275.4,1160.4 2278.9,1180.1 2279.0,1199.7 2278.2,1219.4 2278.1,1239.0 2276.8,1258.7 2276.9,1278.4 2274.1,1298.0 2274.6,1317.7 2277.3,1337.4 2280.7,1357.0 2349.6,1376.7 2371.8,1396.4 2382.9,1416.0 2305.1,1435.7 2282.9,1455.3 2267.4,1475.0 2260.7,1494.7 2264.0,1514.3 2259.6,1534.0 2232.9,1553.7 2255.1,1573.3 2262.9,1593.0 2271.8,1612.7 2260.7,1632.3 2256.3,1652.0 2249.6,1671.7 2260.7,1691.3 2257.4,1711.0 2256.3,1730.7 2251.8,1750.3 2249.6,1770.0 2256.3,1789.6 2260.7,1809.3 2260.7,1829.0 2262.9,1848.6 2262.9,1868.3" fill="none" stroke="#b53d31" stroke-opacity="0.93" stroke-width="10.0" stroke-linejoin="round" stroke-linecap="square"/>
<polyline points="2238.6,177.2 2260.7,196.8 2219.6,216.5 2245.1,236.2 2245.1,255.8 2258.8,275.5 2244.0,295.2 2217.4,314.8 2260.5,334.5 2253.6,354.1 2212.2,373.8 2265.7,393.5 2265.7,413.1 2229.5,432.8 2258.8,452.5 2250.7,472.1 2258.1,491.8 2244.1,511.5 2255.6,531.1 2235.9,550.8 2261.1,570.5 2254.8,590.1 2249.4,609.8 2256.3,629.5 2242.2,649.1 2253.9,668.8 2244.6,688.4 2255.5,708.1 2251.6,727.8 2247.7,747.4 2251.2,767.1 2250.7,786.8 2258.1,806.4 2249.4,826.1 2253.5,845.8 2252.3,865.4 2252.8,885.1 2251.9,904.8 2250.9,924.4 2252.4,944.1 2257.3,963.7 2257.6,983.4 2258.8,1003.1 2258.5,1022.7 2260.8,1042.4 2263.0,1062.1 2265.4,1081.7 2270.1,1101.4 2271.4,1121.1 2273.5,1140.7 2274.6,1160.4 2278.1,1180.1 2278.4,1199.7 2276.9,1219.4 2277.4,1239.0 2277.0,1258.7 2275.8,1278.4 2275.3,1298.0 2272.9,1317.7 2277.1,1337.4 2282.9,1357.0 2360.7,1376.7 2404.0,1396.4 2327.4,1416.0 2298.5,1435.7 2318.5,1455.3 2274.6,1475.0 2287.4,1494.7 2292.9,1514.3 2291.8,1534.0 2318.5,1553.7 2305.7,1573.3 2307.4,1593.0 2297.9,1612.7 2282.9,1632.3 2286.3,1652.0 2338.5,1671.7 2650.6,1691.3 2199.6,1711.0 2145.2,1730.7 2238.5,1750.3 2309.6,1770.0 2625.1,1789.6" fill="none" stroke="#d24c3d" stroke-opacity="0.93" stroke-width="10.0" stroke-linejoin="round" stroke-linecap="square"/>
<polyline points="2260.2,177.2 2221.8,196.8 2241.8,216.5 2261.4,236.2 2262.3,255.8 2235.5,275.5 2247.6,295.2 2251.0,314.8 2228.6,334.5 2241.5,354.1 2255.4,373.8 2251.0,393.5 2245.8,413.1 2258.8,432.8 2270.7,452.5 2241.8,472.1 2226.3,491.8 2264.0,511.5 2250.1,531.1 2239.6,550.8 2249.6,570.5 2249.6,590.1 2242.9,609.8 2245.1,629.5 2246.8,649.1 2251.8,668.8 2269.3,688.4 2245.1,708.1 2253.7,727.8 2243.3,747.4 2248.5,767.1 2251.8,786.8 2253.7,806.4 2250.1,826.1 2248.5,845.8 2250.1,865.4 2257.1,885.1 2248.5,904.8 2250.1,924.4 2253.7,944.1 2253.7,963.7 2258.8,983.4 2255.1,1003.1 2258.8,1022.7 2260.7,1042.4 2264.0,1062.1 2266.3,1081.7 2269.3,1101.4 2272.7,1121.1 2273.4,1140.7 2274.4,1160.4 2279.6,1180.1 2277.8,1199.7 2278.9,1219.4 2277.8,1239.0 2277.8,1258.7 2276.1,1278.4 2274.4,1298.0 2273.4,1317.7 2277.4,1337.4 2281.8,1357.0 2390.1,1376.7 2345.1,1396.4 2321.8,1416.0 2300.7,1435.7 2334.0,1455.3 2494.0,1475.0 2384.0,1494.7 2545.1,1514.3 2354.0,1534.0 2262.9,1553.7 2249.6,1573.3 2247.4,1593.0 2251.8,1612.7 2294.0,1632.3 2385.1,1652.0 4138.1,1671.7" fill="none" stroke="#ef5b49" stroke-opacity="0.93" stroke-width="10.0" stroke-linejoin="round" stroke-linecap="square"/>
</g>
<rect x="2138.5" y="216.5" width="1222.0" height="1651.8" fill="none" stroke="#fff" stroke-width="5.4"/>
<line x1="2249.6" y1="1868.3" x2="2249.6" y2="1880.0" stroke="#fff" stroke-width="2.67"/>
<text transform="translate(2236.51,1927.20) scale(1.0400,1)" font-family="'Liberation Sans', sans-serif" font-size="46.20" font-weight="normal" fill="#fff" >0</text>
<line x1="2471.8" y1="1868.3" x2="2471.8" y2="1880.0" stroke="#fff" stroke-width="2.67"/>
<text transform="translate(2446.11,1927.20) scale(1.0000,1)" font-family="'Liberation Sans', sans-serif" font-size="46.20" font-weight="normal" fill="#fff" >20</text>
<line x1="2694.0" y1="1868.3" x2="2694.0" y2="1880.0" stroke="#fff" stroke-width="2.67"/>
<text transform="translate(2665.86,1927.20) scale(1.0700,1)" font-family="'Liberation Sans', sans-serif" font-size="46.20" font-weight="normal" fill="#fff" >40</text>
<line x1="2916.1" y1="1868.3" x2="2916.1" y2="1880.0" stroke="#fff" stroke-width="2.67"/>
<text transform="translate(2888.13,1927.20) scale(1.0400,1)" font-family="'Liberation Sans', sans-serif" font-size="46.20" font-weight="normal" fill="#fff" >60</text>
<line x1="3138.3" y1="1868.3" x2="3138.3" y2="1880.0" stroke="#fff" stroke-width="2.67"/>
<text transform="translate(3110.48,1927.20) scale(1.0400,1)" font-family="'Liberation Sans', sans-serif" font-size="46.20" font-weight="normal" fill="#fff" >80</text>
<line x1="3360.5" y1="1868.3" x2="3360.5" y2="1880.0" stroke="#fff" stroke-width="2.67"/>
<text transform="translate(3321.39,1927.20) scale(1.0000,1)" font-family="'Liberation Sans', sans-serif" font-size="46.20" font-weight="normal" fill="#fff" >100</text>
<line x1="2126.8" y1="1789.6" x2="2138.5" y2="1789.6" stroke="#fff" stroke-width="2.67"/>
<text transform="translate(2061.40,1807.04) scale(1.0400,1)" font-family="'Liberation Sans', sans-serif" font-size="46.20" font-weight="normal" fill="#fff" >10</text>
<line x1="2126.8" y1="1593.0" x2="2138.5" y2="1593.0" stroke="#fff" stroke-width="2.67"/>
<text transform="translate(2061.54,1610.40) scale(1.0400,1)" font-family="'Liberation Sans', sans-serif" font-size="46.20" font-weight="normal" fill="#fff" >15</text>
<line x1="2126.8" y1="1396.4" x2="2138.5" y2="1396.4" stroke="#fff" stroke-width="2.67"/>
<text transform="translate(2061.40,1413.76) scale(1.0400,1)" font-family="'Liberation Sans', sans-serif" font-size="46.20" font-weight="normal" fill="#fff" >20</text>
<line x1="2126.8" y1="1199.7" x2="2138.5" y2="1199.7" stroke="#fff" stroke-width="2.67"/>
<text transform="translate(2061.54,1217.11) scale(1.0400,1)" font-family="'Liberation Sans', sans-serif" font-size="46.20" font-weight="normal" fill="#fff" >25</text>
<line x1="2126.8" y1="1003.1" x2="2138.5" y2="1003.1" stroke="#fff" stroke-width="2.67"/>
<text transform="translate(2061.40,1020.47) scale(1.0400,1)" font-family="'Liberation Sans', sans-serif" font-size="46.20" font-weight="normal" fill="#fff" >30</text>
<line x1="2126.8" y1="806.4" x2="2138.5" y2="806.4" stroke="#fff" stroke-width="2.67"/>
<text transform="translate(2061.54,823.83) scale(1.0400,1)" font-family="'Liberation Sans', sans-serif" font-size="46.20" font-weight="normal" fill="#fff" >35</text>
<line x1="2126.8" y1="609.8" x2="2138.5" y2="609.8" stroke="#fff" stroke-width="2.67"/>
<text transform="translate(2061.40,627.19) scale(1.0400,1)" font-family="'Liberation Sans', sans-serif" font-size="46.20" font-weight="normal" fill="#fff" >40</text>
<line x1="2126.8" y1="413.1" x2="2138.5" y2="413.1" stroke="#fff" stroke-width="2.67"/>
<text transform="translate(2061.54,430.54) scale(1.0400,1)" font-family="'Liberation Sans', sans-serif" font-size="46.20" font-weight="normal" fill="#fff" >45</text>
<line x1="2126.8" y1="216.5" x2="2138.5" y2="216.5" stroke="#fff" stroke-width="2.67"/>
<text transform="translate(2061.40,233.90) scale(1.0400,1)" font-family="'Liberation Sans', sans-serif" font-size="46.20" font-weight="normal" fill="#fff" >50</text>
<text transform="translate(2198.97,2001.60) scale(1.0886,1)" font-family="'Liberation Sans', sans-serif" font-size="59.90" font-weight="normal" fill="#fff" >Aerosol-To-Molecular</text>
<text transform="translate(2834.94,2001.60) scale(1.1326,1)" font-family="'Liberation Sans', sans-serif" font-size="59.90" font-weight="normal" fill="#fff" >Extinction</text>
<text transform="translate(3142.42,2001.60) scale(1.1364,1)" font-family="'Liberation Sans', sans-serif" font-size="59.90" font-weight="normal" fill="#fff" >Ratio</text>
<text transform="translate(2024.90,1233.34) rotate(-90) scale(1.1630,1)" font-family="'Liberation Sans', sans-serif" font-size="59.90" font-weight="normal" fill="#fff">Altitude [km]</text>
<text transform="translate(1159.50,197.00) scale(0.9649,1)" font-family="'Liberation Sans', sans-serif" font-size="70.30" font-weight="bold" fill="#fff" >Sunrise</text>
<text transform="translate(2636.12,197.00) scale(0.9557,1)" font-family="'Liberation Sans', sans-serif" font-size="70.30" font-weight="bold" fill="#fff" >Sunset</text>
<text transform="translate(776.44,102.00) scale(0.9475,1)" font-family="'Liberation Sans', sans-serif" font-size="81.40" font-weight="bold" fill="#fff" >SAGE</text>
<text transform="translate(1022.09,102.00) scale(0.8690,1)" font-family="'Liberation Mono', monospace" font-size="84.98" font-weight="bold" fill="#fff" >III</text>
<polygon points="1186.2,46 1201.6,46 1171.6,112.2 1156,112.2" fill="#fff"/>
<text transform="translate(1202.83,102.00) scale(0.8011,1)" font-family="'Liberation Mono', monospace" font-size="84.98" font-weight="bold" fill="#fff" >I</text>
<text transform="translate(1241.82,102.00) scale(0.9551,1)" font-family="'Liberation Sans', sans-serif" font-size="81.40" font-weight="bold" fill="#fff" >SS</text>
<text transform="translate(1375.29,102.00) scale(1.0320,1)" font-family="'Liberation Sans', sans-serif" font-size="81.40" font-weight="bold" fill="#fff" >1021nm</text>
<text transform="translate(1712.64,102.00) scale(1.0564,1)" font-family="'Liberation Sans', sans-serif" font-size="81.40" font-weight="bold" fill="#fff" >Aerosol-to-Molecular</text>
<text transform="translate(2602.18,102.00) scale(1.0463,1)" font-family="'Liberation Sans', sans-serif" font-size="81.40" font-weight="bold" fill="#fff" >Extinction</text>
<text transform="translate(3038.95,102.00) scale(1.0705,1)" font-family="'Liberation Sans', sans-serif" font-size="81.40" font-weight="bold" fill="#fff" >Ratio</text>
<text transform="translate(1638.49,191.00) scale(0.8932,1)" font-family="'Liberation Sans', sans-serif" font-size="81.40" font-weight="bold" fill="#fff" >16</text>
<text transform="translate(1753.40,191.00) scale(1.0421,1)" font-family="'Liberation Sans', sans-serif" font-size="81.40" font-weight="bold" fill="#fff" >November</text>
<text transform="translate(2203.09,191.00) scale(1.0522,1)" font-family="'Liberation Sans', sans-serif" font-size="81.40" font-weight="bold" fill="#fff" >2018</text>
<rect x="20.5" y="788.8" width="417.8" height="837.6" rx="9" ry="9" fill="#000" stroke="#a6a6a6" stroke-width="3.33"/>
<rect x="30.7" y="815.0" width="90.4" height="10" fill="#03466a"/>
<text transform="translate(148.04,833.90) scale(0.9721,1)" font-family="'Liberation Sans', sans-serif" font-size="40.30" font-weight="normal" fill="#fff" >2018111563SR</text>
<rect x="30.7" y="874.0" width="90.4" height="10" fill="#034c72"/>
<text transform="translate(148.00,892.90) scale(0.9928,1)" font-family="'Liberation Sans', sans-serif" font-size="40.30" font-weight="normal" fill="#fff" >2018111604SR</text>
<rect x="30.7" y="933.0" width="90.4" height="10" fill="#03527a"/>
<text transform="translate(148.01,951.90) scale(0.9857,1)" font-family="'Liberation Sans', sans-serif" font-size="40.30" font-weight="normal" fill="#fff" >2018111608SR</text>
<rect x="30.7" y="992.0" width="90.4" height="10" fill="#035882"/>
<text transform="translate(148.06,1010.90) scale(0.9650,1)" font-family="'Liberation Sans', sans-serif" font-size="40.30" font-weight="normal" fill="#fff" >2018111612SR</text>
<rect x="30.7" y="1051.0" width="90.4" height="10" fill="#045d8b"/>
<text transform="translate(148.05,1069.90) scale(0.9669,1)" font-family="'Liberation Sans', sans-serif" font-size="40.30" font-weight="normal" fill="#fff" >2018111616SR</text>
<rect x="30.7" y="1110.0" width="90.4" height="10" fill="#046393"/>
<text transform="translate(148.02,1128.90) scale(0.9828,1)" font-family="'Liberation Sans', sans-serif" font-size="40.30" font-weight="normal" fill="#fff" >2018111620SR</text>
<rect x="30.7" y="1169.0" width="90.4" height="10" fill="#04699b"/>
<text transform="translate(148.02,1187.90) scale(0.9843,1)" font-family="'Liberation Sans', sans-serif" font-size="40.30" font-weight="normal" fill="#fff" >2018111624SR</text>
<rect x="30.7" y="1228.0" width="90.4" height="10" fill="#046fa3"/>
<text transform="translate(148.03,1246.90) scale(0.9787,1)" font-family="'Liberation Sans', sans-serif" font-size="40.30" font-weight="normal" fill="#fff" >2018111628SR</text>
<rect x="30.7" y="1287.0" width="90.4" height="10" fill="#0475ab"/>
<text transform="translate(148.04,1305.90) scale(0.9709,1)" font-family="'Liberation Sans', sans-serif" font-size="40.30" font-weight="normal" fill="#fff" >2018111632SR</text>
<rect x="30.7" y="1346.0" width="90.4" height="10" fill="#047bb3"/>
<text transform="translate(148.00,1364.90) scale(0.9917,1)" font-family="'Liberation Sans', sans-serif" font-size="40.30" font-weight="normal" fill="#fff" >2018111640SR</text>
<rect x="30.7" y="1405.0" width="90.4" height="10" fill="#0580bc"/>
<text transform="translate(148.00,1423.90) scale(0.9928,1)" font-family="'Liberation Sans', sans-serif" font-size="40.30" font-weight="normal" fill="#fff" >2018111644SR</text>
<rect x="30.7" y="1464.0" width="90.4" height="10" fill="#0586c4"/>
<text transform="translate(148.03,1482.90) scale(0.9754,1)" font-family="'Liberation Sans', sans-serif" font-size="40.30" font-weight="normal" fill="#fff" >2018111652SR</text>
<rect x="30.7" y="1523.0" width="90.4" height="10" fill="#058ccc"/>
<text transform="translate(148.03,1541.90) scale(0.9754,1)" font-family="'Liberation Sans', sans-serif" font-size="40.30" font-weight="normal" fill="#fff" >2018111656SR</text>
<rect x="30.7" y="1582.0" width="90.4" height="10" fill="#0592d4"/>
<text transform="translate(148.02,1600.90) scale(0.9824,1)" font-family="'Liberation Sans', sans-serif" font-size="40.30" font-weight="normal" fill="#fff" >2018111660SR</text>
<rect x="3380.4" y="995.5" width="412.8" height="424.8" rx="9" ry="9" fill="#000" stroke="#a6a6a6" stroke-width="3.33"/>
<rect x="3391.0" y="1021.9" width="90.4" height="10" fill="#410000"/>
<text transform="translate(3508.03,1040.80) scale(0.9799,1)" font-family="'Liberation Sans', sans-serif" font-size="40.30" font-weight="normal" fill="#fff" >2018111602SS</text>
<rect x="3391.0" y="1080.9" width="90.4" height="10" fill="#5e0f0c"/>
<text transform="translate(3508.04,1099.80) scale(0.9732,1)" font-family="'Liberation Sans', sans-serif" font-size="40.30" font-weight="normal" fill="#fff" >2018111610SS</text>
<rect x="3391.0" y="1139.9" width="90.4" height="10" fill="#7b1e18"/>
<text transform="translate(3508.03,1158.80) scale(0.9792,1)" font-family="'Liberation Sans', sans-serif" font-size="40.30" font-weight="normal" fill="#fff" >2018111634SS</text>
<rect x="3391.0" y="1198.9" width="90.4" height="10" fill="#982e24"/>
<text transform="translate(3508.04,1217.80) scale(0.9732,1)" font-family="'Liberation Sans', sans-serif" font-size="40.30" font-weight="normal" fill="#fff" >2018111638SS</text>
<rect x="3391.0" y="1257.9" width="90.4" height="10" fill="#b53d31"/>
<text transform="translate(3508.02,1276.80) scale(0.9833,1)" font-family="'Liberation Sans', sans-serif" font-size="40.30" font-weight="normal" fill="#fff" >2018111642SS</text>
<rect x="3391.0" y="1316.9" width="90.4" height="10" fill="#d24c3d"/>
<text transform="translate(3508.02,1335.80) scale(0.9833,1)" font-family="'Liberation Sans', sans-serif" font-size="40.30" font-weight="normal" fill="#fff" >2018111646SS</text>
<rect x="3391.0" y="1375.9" width="90.4" height="10" fill="#ef5b49"/>
<text transform="translate(3508.02,1394.80) scale(0.9833,1)" font-family="'Liberation Sans', sans-serif" font-size="40.30" font-weight="normal" fill="#fff" >2018111654SS</text>
<rect x="39.8" y="1975" width="36.9" height="10" fill="#fff"/><rect x="93.0" y="1975" width="27" height="10" fill="#fff"/>
<rect x="39.8" y="2034.8" width="10.0" height="10" fill="#fff"/>
<rect x="66.3" y="2034.8" width="10.0" height="10" fill="#fff"/>
<rect x="92.8" y="2034.8" width="10.0" height="10" fill="#fff"/>
<rect x="119.3" y="2034.8" width="0.7" height="10" fill="#fff"/>
<rect x="40.2" y="2085.2" width="80.4" height="28.8" fill="#696c71" stroke="#97999d" stroke-width="2.6"/>
<text transform="translate(150.94,1994.10) scale(1.0349,1)" font-family="'Liberation Sans', sans-serif" font-size="42.00" font-weight="normal" fill="#fff" >Mean Tropopause</text>
<text transform="translate(150.92,2053.50) scale(1.0409,1)" font-family="'Liberation Sans', sans-serif" font-size="42.00" font-weight="normal" fill="#fff" >Median Tropopause</text>
<text transform="translate(152.55,2112.60) scale(1.0261,1)" font-family="'Liberation Sans', sans-serif" font-size="42.00" font-weight="normal" fill="#fff" >Tropopause Range</text>
<text transform="translate(3267.39,2038.00) scale(1.0338,1)" font-family="'Liberation Sans', sans-serif" font-size="30.80" font-weight="normal" fill="#808080" >SAGE</text>
<text transform="translate(3366.67,2038.00) scale(0.7230,1)" font-family="'Liberation Mono', monospace" font-size="32.16" font-weight="normal" fill="#808080" >III</text>
<polygon points="3424.3,2015.5 3427.6,2015.5 3411.9,2043 3408.7,2043" fill="#808080"/>
<text transform="translate(3427.28,2038.00) scale(0.8052,1)" font-family="'Liberation Mono', monospace" font-size="32.16" font-weight="normal" fill="#808080" >I</text>
<text transform="translate(3440.53,2038.00) scale(1.2320,1)" font-family="'Liberation Sans', sans-serif" font-size="30.80" font-weight="normal" fill="#808080" >SS</text>
<text transform="translate(3498.91,2038.00) scale(1.1687,1)" font-family="'Liberation Sans', sans-serif" font-size="30.80" font-weight="normal" fill="#808080" >Mission</text>
<rect x="3630.6" y="2014.5" width="3.0" height="29.5" fill="#808080"/>
<text transform="translate(3645.67,2038.00) scale(1.1004,1)" font-family="'Liberation Sans', sans-serif" font-size="30.80" font-weight="normal" fill="#808080" >NASA</text>
<text transform="translate(3750.04,2038.00) scale(1.0925,1)" font-family="'Liberation Sans', sans-serif" font-size="30.80" font-weight="normal" fill="#808080" >LaRC</text>
<text transform="translate(3311.36,2075.70) scale(1.1632,1)" font-family="'Liberation Sans', sans-serif" font-size="30.80" font-weight="normal" fill="#808080" >Preparer: Kevin R. Leavor (AMA)</text>
<text transform="translate(3388.22,2113.00) scale(1.1983,1)" font-family="'Liberation Sans', sans-serif" font-size="30.80" font-weight="normal" fill="#808080" >Generated</text>
<text transform="translate(3570.96,2113.00) scale(1.1098,1)" font-family="'Liberation Sans', sans-serif" font-size="30.80" font-weight="normal" fill="#808080" >2025-07-17</text>
<text transform="translate(3754.91,2113.00) scale(1.0434,1)" font-family="'Liberation Sans', sans-serif" font-size="30.80" font-weight="normal" fill="#808080" >22:25</text>
<text transform="translate(3532.39,2149.80) scale(1.1915,1)" font-family="'Liberation Sans', sans-serif" font-size="30.80" font-weight="normal" fill="#808080" >Data</text>
<text transform="translate(3622.21,2149.80) scale(1.1809,1)" font-family="'Liberation Sans', sans-serif" font-size="30.80" font-weight="normal" fill="#808080" >Version:</text>
<text transform="translate(3762.34,2149.80) scale(1.0644,1)" font-family="'Liberation Sans', sans-serif" font-size="30.80" font-weight="normal" fill="#808080" >6.0.0</text>
<g id="logo">
<path d="M3494.0,222.8 L3494.0,50.1 A32.0 32.0 0 0 1 3526.0,18.1 L3797.8,18.1 A32.0 32.0 0 0 1 3829.8,50.1 L3829.8,222.8 A167.9 167.9 0 0 1 3494.0,222.8 Z" fill="#e85a4e"/>
<path d="M3500.6,222.8 L3500.6,50.1 A25.4 25.4 0 0 1 3526.0,24.7 L3797.8,24.7 A25.4 25.4 0 0 1 3823.2,50.1 L3823.2,222.8 A161.3 161.3 0 0 1 3500.6,222.8 Z" fill="#14528c"/>
<circle cx="3663.0" cy="219.8" r="140.5" fill="#c9ccdb"/>
<clipPath id="lc"><circle cx="3663.0" cy="219.8" r="125.0"/></clipPath>
<circle cx="3663.0" cy="219.8" r="125.0" fill="#104c82"/>
<g clip-path="url(#lc)">
<circle cx="1371.7" cy="1949.5" r="2879.0" fill="#1f78b6"/>
<circle cx="1371.7" cy="1949.5" r="2866.0" fill="#15578f" stroke="#e8f0fa" stroke-width="1.2"/>
<clipPath id="le"><circle cx="1371.7" cy="1949.5" r="2865.4"/></clipPath>
<g clip-path="url(#le)">
<polygon points="3596.0,160.0 3612.0,168.0 3622.0,200.0 3640.0,196.0 3652.0,214.0 3662.0,232.0 3668.0,262.0 3662.0,268.0 3650.0,262.0 3640.0,270.0 3644.0,290.0 3652.0,300.0 3660.0,296.0 3668.0,306.0 3690.0,302.0 3698.0,312.0 3692.0,330.0 3695.0,345.0 3680.0,350.0 3672.0,330.0 3655.0,318.0 3640.0,312.0 3628.0,300.0 3612.0,292.0 3604.0,300.0 3596.0,290.0 3590.0,240.0" fill="#5fa36d" />
<polygon points="3622.0,204.0 3632.0,200.0 3640.0,212.0 3646.0,226.0 3640.0,230.0 3634.0,222.0 3628.0,226.0 3624.0,214.0" fill="#15578f" />
<polygon points="3646.0,268.0 3660.0,262.0 3668.0,268.0 3664.0,286.0 3668.0,300.0 3660.0,304.0 3648.0,300.0 3642.0,284.0" fill="#15578f" />
<polygon points="3694.0,300.0 3712.0,290.0 3728.0,300.0 3740.0,330.0 3730.0,350.0 3698.0,352.0 3696.0,330.0" fill="#5fa36d" />
</g>
<circle cx="3637.2" cy="143.5" r="23.8" fill="#f3f4f8"/>
<path d="M3616,134 A23.8 23.8 0 0 0 3640,167 A30 30 0 0 1 3616,134 Z" fill="#c9ccdb"/>
<ellipse cx="3630" cy="138" rx="7" ry="5" fill="#bfc2d1"/>
<ellipse cx="3644" cy="136" rx="6" ry="4.5" fill="#bfc2d1"/>
<ellipse cx="3640" cy="150" rx="5" ry="6" fill="#bfc2d1"/>
<ellipse cx="3650" cy="147" rx="4" ry="5" fill="#bfc2d1"/>
<ellipse cx="3632" cy="128" rx="3" ry="2.5" fill="#bfc2d1"/>
<clipPath id="ls"><circle cx="3735.2" cy="281" r="22.9"/></clipPath>
<circle cx="3735.2" cy="281" r="22.9" fill="#c9ccdb"/>
<circle cx="3738.6" cy="278.5" r="22.9" fill="#ffe29a" clip-path="url(#ls)"/>
<line x1="3716.2" y1="191.7" x2="3654.7" y2="158.8" stroke="#e8f0fa" stroke-width="1.1"/>
<line x1="3716.2" y1="191.7" x2="3644.9" y2="166.5" stroke="#e8f0fa" stroke-width="1.1"/>
<line x1="3716.2" y1="191.7" x2="3668.7" y2="226.6" stroke="#e8f0fa" stroke-width="1.1"/>
<line x1="3716.2" y1="191.7" x2="3674.2" y2="233.5" stroke="#e8f0fa" stroke-width="1.1"/>
<line x1="3716.2" y1="191.7" x2="3723.2" y2="257.5" stroke="#e8f0fa" stroke-width="1.1"/>
<line x1="3716.2" y1="191.7" x2="3734.3" y2="257.0" stroke="#e8f0fa" stroke-width="1.1"/>
<line x1="3603" y1="152" x2="3656" y2="214" stroke="#e8f0fa" stroke-width="1.1"/>
<g transform="translate(3728.8,179.8) rotate(45)">
<rect x="-27.9" y="-18" width="2.6" height="36" fill="#c4c4c8"/>
<rect x="-24.3" y="-18" width="2.6" height="36" fill="#c4c4c8"/>
<rect x="-20.3" y="-18" width="2.6" height="36" fill="#c4c4c8"/>
<rect x="-16.7" y="-18" width="2.6" height="36" fill="#c4c4c8"/>
<rect x="-21.6" y="-18" width="1.2" height="36" fill="#e8dcc0"/>
<rect x="14.1" y="-18" width="2.6" height="36" fill="#c4c4c8"/>
<rect x="17.7" y="-18" width="2.6" height="36" fill="#c4c4c8"/>
<rect x="21.7" y="-18" width="2.6" height="36" fill="#c4c4c8"/>
<rect x="25.3" y="-18" width="2.6" height="36" fill="#c4c4c8"/>
<rect x="20.4" y="-18" width="1.2" height="36" fill="#e8dcc0"/>
<rect x="-22" y="-0.9" width="44" height="1.8" fill="#c4c4c8"/>
<rect x="-1.6" y="-10" width="3.2" height="22" fill="#e6e6ea"/>
<rect x="-6" y="-5" width="2" height="10" fill="#e6e6ea"/><rect x="4" y="-6" width="2" height="12" fill="#e6e6ea"/>
<rect x="-8" y="3" width="16" height="1.6" fill="#e6e6ea"/><rect x="-7" y="-5" width="14" height="1.4" fill="#e6e6ea"/>
</g>
<polygon points="3693.4,107.0 3694.5,115.4 3702.9,116.5 3694.5,117.6 3693.4,126.0 3692.3,117.6 3683.9,116.5 3692.3,115.4" fill="#ffe9a8"/>
<polygon points="3680.1,122.0 3680.8,127.1 3685.9,127.8 3680.8,128.5 3680.1,133.6 3679.4,128.5 3674.3,127.8 3679.4,127.1" fill="#fff"/>
<polygon points="3703.6,127.1 3704.1,130.8 3707.8,131.3 3704.1,131.8 3703.6,135.5 3703.1,131.8 3699.4,131.3 3703.1,130.8" fill="#fff"/>
</g>
<clipPath id="lr"><path d="M3480,0 H3640 V230 H3480 Z M3538.0,230 A125.0 125.0 0 0 0 3788.0,230 Z"/></clipPath>
<polygon points="3543.8,151.9 3524.1,167.2 3516.9,190.5 3509.7,219.2 3502.2,239.8 3516.9,234.4 3533.1,215.6 3542.0,204.8 3551.0,208.4 3558.2,165.4" fill="#cd4035" />
<polygon points="3531.3,169.0 3521.4,190.5 3513.3,219.2 3505.3,238.0 3516.9,231.8 3528.6,213.8 3530.4,190.5" fill="#8f2722" />
<polygon points="3543.8,151.9 3524.1,167.2 3516.9,190.5 3509.7,219.2 3502.2,239.8 3507.9,222.8 3515.1,194.1 3523.2,170.7" fill="#e65c4e" />
<g clip-path="url(#lr)">
<polygon points="3543.8,151.9 3561.8,148.3 3576.1,161.8 3590.5,192.3 3595.0,167.2 3602.7,160.9 3605.7,170.7 3607.5,197.7 3607.5,334.0 3565.4,334.0 3549.2,280.2 3540.2,251.5 3543.8,233.5 3553.7,213.8 3549.2,204.8 3549.2,179.7" fill="#cd4035" />
<polygon points="3543.8,233.5 3551.0,226.4 3558.2,269.4 3565.4,305.3 3558.2,296.4 3547.4,269.4 3541.1,251.5" fill="#8f2722" />
<polygon points="3567.2,226.4 3574.3,228.2 3579.7,287.4 3583.3,323.3 3574.3,314.3 3570.7,269.4" fill="#8f2722" />
<polygon points="3590.5,231.8 3597.7,233.5 3602.1,287.4 3605.7,330.4 3597.7,323.3 3595.0,278.4" fill="#8f2722" />
<polygon points="3558.2,190.5 3567.2,195.9 3569.0,204.8 3560.0,201.3" fill="#8f2722" />
<polygon points="3559.1,228.2 3565.4,228.2 3569.8,269.4 3573.4,312.5 3567.2,305.3 3563.6,269.4" fill="#e65c4e" />
<polygon points="3580.6,231.8 3587.8,232.7 3593.2,278.4 3596.2,321.5 3589.6,317.9 3585.1,278.4" fill="#e65c4e" />
<polygon points="3602.1,233.5 3607.0,235.3 3607.2,330.4 3604.8,287.4" fill="#e65c4e" />
</g>
<polygon points="3545.6,152.8 3561.8,149.2 3574.3,161.8 3586.9,190.5 3574.3,193.2 3565.4,183.3 3552.8,183.3 3550.1,167.2" fill="#e65c4e" />
<polygon points="3552.8,183.3 3565.4,183.3 3574.3,193.2 3586.9,190.5 3589.6,197.7 3574.3,200.4 3561.8,192.3 3551.9,192.3" fill="#8f2722" />
<polyline points="3534.9,123.2 3543.8,190.5 3549.2,230.0 3551.9,251.5 3558.2,266.7 3561.8,278.4 3563.9,294.6" fill="none" stroke="#a3561c" stroke-width="5.2" stroke-linejoin="round"/>
<polyline points="3535.8,123.2 3544.7,190.5 3550.1,230.0 3552.8,251.5 3559.1,266.7 3562.7,278.4 3564.8,294.6" fill="none" stroke="#d9984a" stroke-width="1.5" stroke-linejoin="round"/>
<circle cx="3532.7" cy="113.7" r="10.2" fill="#c9ccdb" stroke="#f0f2f7" stroke-width="1.6"/>
<polygon points="3530.4,176.1 3543.8,173.4 3549.2,183.3 3545.6,195.9 3535.8,195.9 3528.6,186.9" fill="#dba571" />
<polyline points="3555.5,207.5 3570.7,213.8 3585.1,216.5 3601.3,221.9" fill="none" stroke="#7a3d16" stroke-width="6"/>
<polygon points="3603.1,224.4 3597.2,231.4 3588.2,229.8 3585.0,221.2 3590.9,214.1 3600.0,215.7" fill="#6b2f14" stroke="#c98a4a" stroke-width="1.6"/>
<text x="3590.9" y="226.6" font-family="Liberation Serif, serif" font-style="italic" font-weight="bold" font-size="11" fill="#c98a4a">S</text>
<polygon points="3560.9,147.4 3565.4,140.2 3574.3,134.9 3585.1,129.5 3597.7,128.2 3605.7,134.0 3607.5,143.8 3601.3,149.2 3602.1,161.8 3600.4,174.3 3595.9,185.1 3588.7,191.4 3581.5,185.1 3576.1,169.0 3569.0,158.2" fill="#f7f7f9" />
<polygon points="3580.6,143.8 3586.9,134.9 3597.7,134.0 3604.8,142.0 3603.0,151.9 3597.7,160.9 3590.5,158.2 3583.3,154.6" fill="#dba571" />
<polygon points="3589.6,157.3 3599.5,155.5 3600.4,161.8 3595.9,165.4 3590.5,162.7" fill="#f7f7f9" />
<polygon points="3590.5,143.8 3602.1,147.1 3601.6,149.2 3590.5,146.5" fill="#4a3326" />
<polygon points="3603.9,169.8 3616.5,169.0 3617.8,174.3 3613.8,190.5 3605.7,192.3" fill="#7c2c20" />
<polygon points="3609.3,170.7 3616.5,169.8 3615.6,176.1 3612.0,187.8 3608.8,186.9" fill="#b7632a" />
<polygon points="3607.5,179.7 3616.5,177.9 3616.5,186.9 3612.0,193.2 3606.6,190.5" fill="#dba571" />
<text transform="translate(3525.97,58.90) scale(1.0134,1)" font-family="'Liberation Serif', serif" font-size="41.50" font-weight="bold" fill="#fff" >SAGE III</text>
<circle cx="3716.2" cy="46" r="4.6" fill="#fff"/>
<text transform="translate(3731.51,58.90) scale(1.0156,1)" font-family="'Liberation Serif', serif" font-size="41.50" font-weight="bold" fill="#fff" >ISS</text>
<text transform="translate(3527.81,71.60) scale(0.9759,1)" font-family="'Liberation Sans', sans-serif" font-size="8.90" font-weight="normal" fill="#e6edf6" >Stratospheric Aerosol and Gas Experiment III</text>
<text transform="translate(3736.10,71.20) scale(1.1013,1)" font-family="'Liberation Sans', sans-serif" font-size="8.90" font-weight="normal" fill="#e6edf6" >International</text>
<text transform="translate(3733.16,82.60) scale(1.0911,1)" font-family="'Liberation Sans', sans-serif" font-size="8.90" font-weight="normal" fill="#e6edf6" >Space Station</text>
<path id="larc" d="M3510.9,255.4 A154.5 154.5 0 0 0 3816.1,233.0" fill="none"/>
<text font-family="Liberation Sans, sans-serif" font-weight="bold" font-size="13.5" fill="#fff" word-spacing="6.6"><textPath href="#larc">BALL • NASA LANGLEY RESEARCH CENTER • TAS-I • ESA</textPath></text>
</g>
</svg>
</body></html>
